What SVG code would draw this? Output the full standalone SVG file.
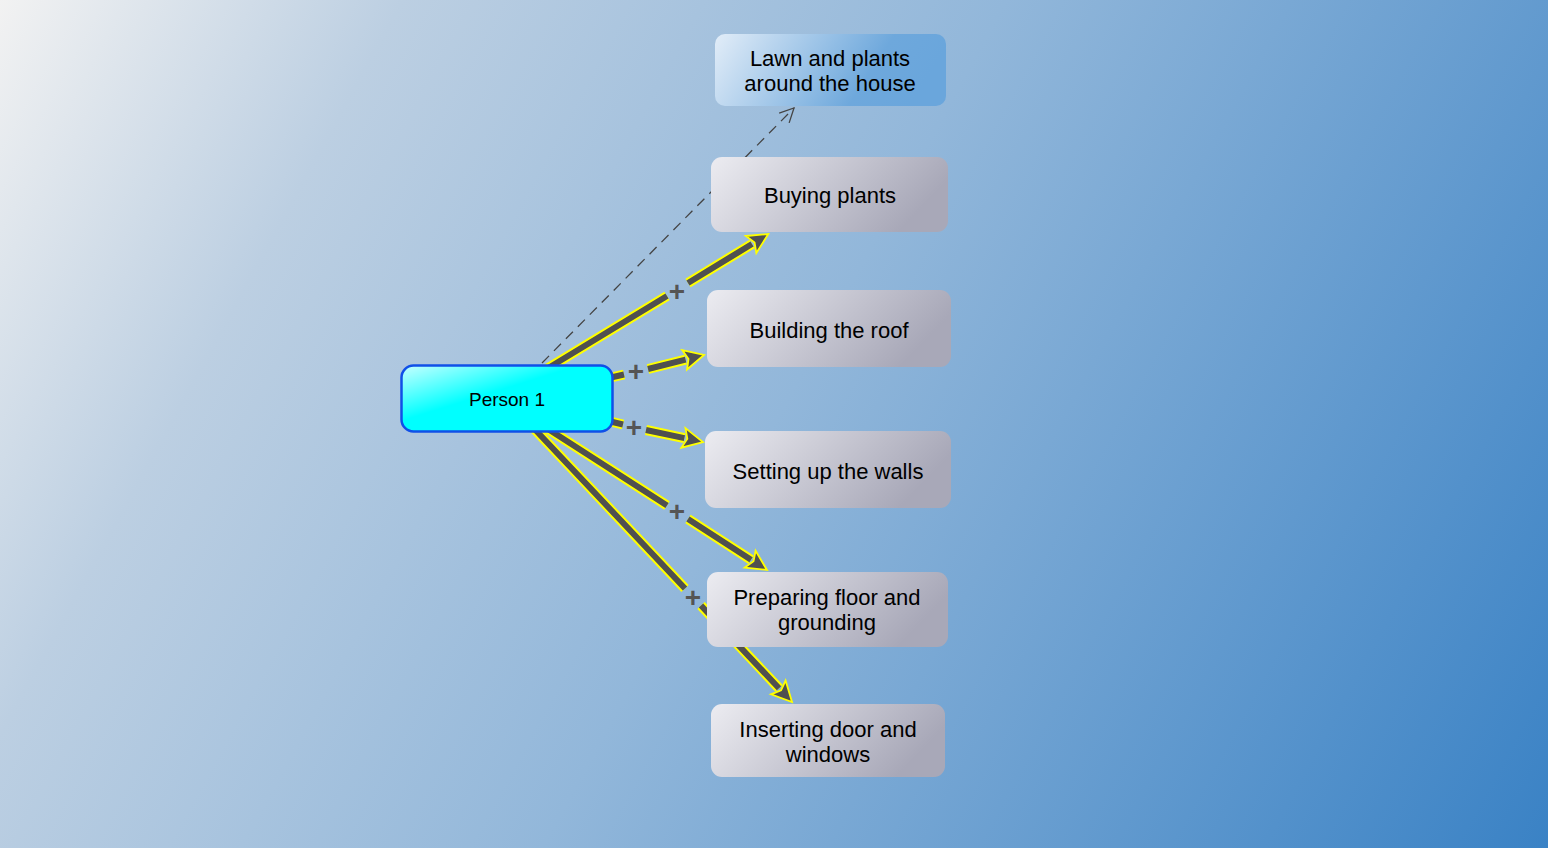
<svg xmlns="http://www.w3.org/2000/svg" width="1548" height="848" viewBox="0 0 1548 848">
<defs>
<linearGradient id="bg" gradientUnits="userSpaceOnUse" x1="0" y1="0" x2="1548" y2="848">
<stop offset="0" stop-color="#f2f2f2"/>
<stop offset="0.2" stop-color="#bccfe2"/>
<stop offset="0.5" stop-color="#92b7da"/>
<stop offset="1" stop-color="#3a82c5"/>
</linearGradient>
<linearGradient id="gray" x1="0" y1="0" x2="1" y2="0.3">
<stop offset="0" stop-color="#ececf1"/>
<stop offset="1" stop-color="#a8a8b8"/>
</linearGradient>
<linearGradient id="blue" x1="0" y1="0" x2="1" y2="0.2">
<stop offset="0" stop-color="#e2edf8"/>
<stop offset="0.75" stop-color="#6ea8dc"/>
<stop offset="1" stop-color="#6aa6dc"/>
</linearGradient>
<linearGradient id="cyan" x1="0" y1="0" x2="0.6" y2="0.6">
<stop offset="0" stop-color="#c8ffff"/>
<stop offset="0.7" stop-color="#00ffff"/>
</linearGradient>
<marker id="arr" markerUnits="userSpaceOnUse" markerWidth="28" markerHeight="26" viewBox="-3 -13 28 26" refX="1" refY="0" orient="auto" overflow="visible">
<path d="M0,-10 L20,0 L0,10 L4,0 Z" fill="#505050" stroke="#ffff00" stroke-width="1.8" stroke-linejoin="miter"/>
</marker>
<marker id="open" markerUnits="userSpaceOnUse" markerWidth="20" markerHeight="20" viewBox="-16 -8 20 16" refX="0" refY="0" orient="auto" overflow="visible">
<path d="M-14,-7 L0,0 L-14,7" fill="none" stroke="#444" stroke-width="1.3"/>
</marker>
</defs>
<style>
.glow{fill:none;stroke:#ffff00;stroke-width:10;stroke-linecap:butt}
.core{fill:none;stroke:#505050;stroke-width:6;stroke-linecap:butt}
.dash{fill:none;stroke:#444;stroke-width:1.3;stroke-dasharray:10 7}
.plus{font-family:"Liberation Sans",Arial,sans-serif;font-weight:bold;font-size:28px;fill:#555;text-anchor:middle}
.node{stroke:none}
.lbl{font-family:"Liberation Sans",Arial,sans-serif;font-size:22px;fill:#000;text-anchor:middle}
</style>
<rect x="0" y="0" width="1548" height="848" fill="url(#bg)"/>
<g id="connectors">
<path class="dash" d="M542,363 L794,108" marker-end="url(#open)"/>
<path class="glow" d="M540,373 L667,296 M688,283 L752,244"/>
<path class="core" d="M540,373 L667,296 M688,283 L752,244" marker-end="url(#arr)"/>
<path class="glow" d="M600,380 L624,374.5 M648,369 L685.6,359.6"/>
<path class="core" d="M600,380 L624,374.5 M648,369 L685.6,359.6" marker-end="url(#arr)"/>
<path class="glow" d="M600,419 L623,424.5 M646,430 L684.4,438.1"/>
<path class="core" d="M600,419 L623,424.5 M646,430 L684.4,438.1" marker-end="url(#arr)"/>
<path class="glow" d="M534,420 L667,505.5 M688,519 L751,559.7"/>
<path class="core" d="M534,420 L667,505.5 M688,519 L751,559.7" marker-end="url(#arr)"/>
<path class="glow" d="M526,420 L685,588.5 M701,605.5 L779,688.2"/>
<path class="core" d="M526,420 L685,588.5 M701,605.5 L779,688.2" marker-end="url(#arr)"/>
<text class="plus" x="677" y="301">+</text>
<text class="plus" x="636" y="381">+</text>
<text class="plus" x="634" y="437">+</text>
<text class="plus" x="677" y="521">+</text>
<text class="plus" x="693" y="607">+</text>
</g>
<g id="n-person">
<rect x="401.5" y="365.5" width="211" height="66" rx="12" fill="url(#cyan)" stroke="#1050e8" stroke-width="2.5"/>
<text x="507" y="406" font-family="'Liberation Sans',Arial,sans-serif" font-size="19" text-anchor="middle" fill="#000">Person 1</text>
</g>
<g id="n-lawn">
<rect class="node" x="715" y="34" width="231" height="72" rx="10" fill="url(#blue)"/>
<text class="lbl" x="830" y="66">Lawn and plants</text>
<text class="lbl" x="830" y="91">around the house</text>
</g>
<g id="n-buying">
<rect class="node" x="711" y="157" width="237" height="75" rx="11" fill="url(#gray)"/>
<text class="lbl" x="830" y="203">Buying plants</text>
</g>
<g id="n-roof">
<rect class="node" x="707" y="290" width="244" height="77" rx="11" fill="url(#gray)"/>
<text class="lbl" x="829" y="338">Building the roof</text>
</g>
<g id="n-walls">
<rect class="node" x="705" y="431" width="246" height="77" rx="11" fill="url(#gray)"/>
<text class="lbl" x="828" y="479">Setting up the walls</text>
</g>
<g id="n-floor">
<rect class="node" x="707" y="572" width="241" height="75" rx="11" fill="url(#gray)"/>
<text class="lbl" x="827" y="605">Preparing floor and</text>
<text class="lbl" x="827" y="630">grounding</text>
</g>
<g id="n-door">
<rect class="node" x="711" y="704" width="234" height="73" rx="11" fill="url(#gray)"/>
<text class="lbl" x="828" y="737">Inserting door and</text>
<text class="lbl" x="828" y="762">windows</text>
</g>
</svg>
